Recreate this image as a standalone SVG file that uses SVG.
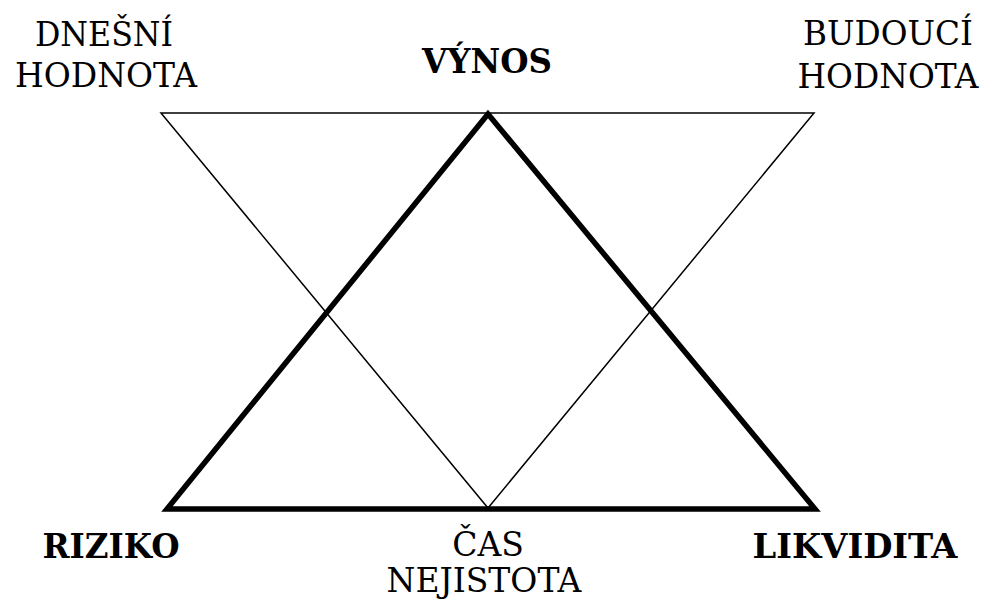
<svg xmlns="http://www.w3.org/2000/svg" width="981" height="601" viewBox="0 0 981 601">
  <style>
    text { font-family: 'DejaVu Serif', 'Liberation Serif', serif; font-size: 33px; fill: #000; text-anchor: middle; }
    .b { font-weight: bold; }
    .thin { fill: none; stroke: #000; stroke-width: 1.5; stroke-linejoin: miter; }
    .thick { fill: none; stroke: #000; stroke-width: 5.5; stroke-linejoin: miter; stroke-miterlimit: 10; }
  </style>
  <rect width="981" height="601" fill="#fff"/>
  <g id="connectors">
    <!-- inverted triangle: present value, future value, time -->
    <polygon class="thin" points="161,113 814,113 488,508"/>
    <!-- upright triangle: yield, risk, liquidity -->
    <polygon class="thick" points="488,114 167,509 815,509"/>
  </g>
  <g id="dnesni-hodnota">
    <text x="104" y="46" textLength="138" lengthAdjust="spacingAndGlyphs">DNEŠNÍ</text>
    <text x="106" y="87" textLength="182" lengthAdjust="spacingAndGlyphs">HODNOTA</text>
  </g>
  <g id="vynos">
    <text class="b" x="487" y="73" textLength="130" lengthAdjust="spacingAndGlyphs">VÝNOS</text>
  </g>
  <g id="budouci-hodnota">
    <text x="888" y="45" textLength="170" lengthAdjust="spacingAndGlyphs">BUDOUCÍ</text>
    <text x="888" y="88" textLength="181" lengthAdjust="spacingAndGlyphs">HODNOTA</text>
  </g>
  <g id="riziko">
    <text class="b" x="111" y="558" textLength="137" lengthAdjust="spacingAndGlyphs">RIZIKO</text>
  </g>
  <g id="cas-nejistota">
    <text><tspan x="488" y="556">ČAS</tspan><tspan x="484" y="592">NEJISTOTA</tspan></text>
  </g>
  <g id="likvidita">
    <text class="b" x="855" y="558" textLength="205" lengthAdjust="spacingAndGlyphs">LIKVIDITA</text>
  </g>
</svg>
